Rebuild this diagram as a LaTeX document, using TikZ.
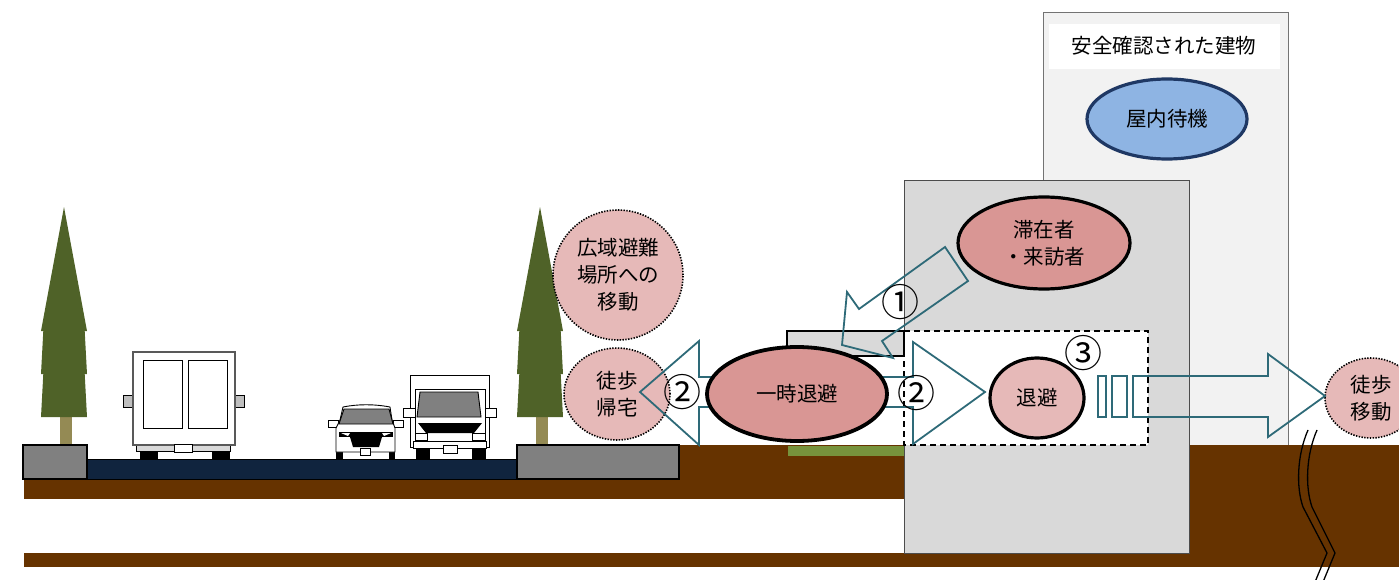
\documentclass[tikz,border=0pt]{standalone}
\usepackage{fontspec}
\setmainfont{Noto Sans CJK JP}
\usetikzlibrary{shapes.geometric}

\definecolor{soil}{HTML}{663300}
\definecolor{asphalt}{HTML}{10243E}
\definecolor{curbgray}{HTML}{808080}
\definecolor{leaf}{HTML}{4F6228}
\definecolor{bark}{HTML}{948A54}
\definecolor{lawn}{HTML}{77933C}
\definecolor{wallfront}{HTML}{D9D9D9}
\definecolor{wallback}{HTML}{F2F2F2}
\definecolor{rose}{HTML}{D99694}
\definecolor{blush}{HTML}{E6B9B8}
\definecolor{skyblue}{HTML}{8EB4E3}
\definecolor{deepnavy}{HTML}{1F3864}
\definecolor{flow}{HTML}{2E6A78}

\tikzset{
  jp/.style={font=\fontsize{20.5}{27}\selectfont, align=center},
  num/.style={font=\fontsize{38}{40}\selectfont, inner sep=0pt},
  spot/.style={ellipse, draw=black, line width=3.2pt, fill=rose, inner sep=0pt, jp},
  spotlight/.style={spot, fill=blush},
  option/.style={ellipse, draw=black, line width=1.6pt, dash pattern=on 1.4pt off 1.4pt,
                 fill=blush, inner sep=0pt, jp},
  flowarrow/.style={draw=flow, line width=1.8pt, line join=miter},
  carline/.style={draw=black, line width=0.9pt},
  pics/pine/.style={code={
    \fill[bark] (-4,-28) rectangle (8,0);
    \fill[leaf] (0,-238) -- (-23,-114) -- (-20.7,-114) -- (-23,-71) -- (-20.7,-71)
      -- (-23,-28) -- (23,-28) -- (20.7,-71) -- (23,-71) -- (20.7,-114) -- (23,-114) -- cycle;
  }}
}

\begin{document}
\begin{tikzpicture}[x=1pt,y=-1pt]
\useasboundingbox (0,0) rectangle (1399,580);

% rear building, checked as safe
\filldraw[fill=wallback, draw=black!55, line width=1pt] (1043,13) rectangle (1288,445);
\fill[white] (1049,24) rectangle (1280,69);
\node[jp] (safelabel) at (1164,46) {安全確認された建物};
\node[ellipse, draw=deepnavy, line width=3.2pt, fill=skyblue, inner sep=0pt, jp,
      minimum width=160pt, minimum height=80pt] (indoor) at (1167,119) {屋内待機};

% ground
\fill[soil] (24,479) rectangle (1399,499);
\fill[soil] (679,445) rectangle (1399,499);
\fill[soil] (1189,445) rectangle (1399,567);
\fill[soil] (24,553) rectangle (1399,567);

% front building
\filldraw[fill=wallfront, draw=black!70, line width=1pt] (904,181) rectangle (1189,553);

% sheltered zone at the entrance
\filldraw[fill=white, draw=black, line width=1.6pt, dash pattern=on 6pt off 4pt]
  (904,331) rectangle (1148,445);

% canopy and lawn
\filldraw[fill=wallfront, draw=black, line width=1.2pt] (787,331) rectangle (904,356);
\fill[lawn] (788,446) rectangle (904,456);

% trees
\pic at (64,445) {pine};
\pic at (540,445) {pine};

% road and curbs
\filldraw[fill=asphalt, draw=black, line width=1pt] (87,459) rectangle (517,479);
\filldraw[fill=curbgray, draw=black, line width=1.5pt] (23,445) rectangle (87,479);
\filldraw[fill=curbgray, draw=black, line width=1.5pt] (517,445) rectangle (679,479);

% truck seen from behind
\filldraw[fill=black!25, carline] (123,395) rectangle (133,407);
\filldraw[fill=black!25, carline] (235,395) rectangle (244,407);
\fill[black] (140,450) rectangle (158,460);
\fill[black] (212,450) rectangle (230,460);
\filldraw[fill=black!15, carline] (136,445) rectangle (230,451);
\filldraw[fill=white, draw=black!65, line width=1.3pt] (133,352) rectangle (235,445);
\filldraw[fill=white, carline] (143,360) rectangle (182,428);
\filldraw[fill=white, carline] (188,360) rectangle (227,428);
\filldraw[fill=white, carline] (174,444) rectangle (192,452);

% small car seen from the front
\filldraw[fill=white, carline] (328,420) rectangle (338,427);
\filldraw[fill=white, carline] (393,420) rectangle (403,427);
\fill[black] (336,450) rectangle (343,459);
\fill[black] (389,450) rectangle (395,459);
\filldraw[fill=white, carline] (336,452) -- (336,428) -- (340,420) -- (343,407)
  .. controls (358,404) and (374,404) .. (390,407) -- (392,420) -- (395,428) -- (395,452) -- cycle;
\filldraw[fill=curbgray, carline] (344,409) -- (389,409) -- (393,424) -- (339,424) -- cycle;
\fill[black] (339,432) rectangle (393,437);
\fill[white] (341,433) -- (350,433) -- (348,436) -- cycle;
\fill[white] (391,433) -- (382,433) -- (384,436) -- cycle;
\fill[black] (350,437) -- (382,437) -- (379,447) -- (353,447) -- cycle;
\filldraw[fill=white, carline] (360,448) rectangle (370,455);

% light truck seen from the front
\fill[black] (416,446) rectangle (430,459);
\fill[black] (472,446) rectangle (486,459);
\filldraw[fill=white, carline] (410,375) rectangle (489,447);
\filldraw[fill=white, carline] (403,408) rectangle (415,417);
\filldraw[fill=white, carline] (484,408) rectangle (496,417);
\filldraw[fill=white, carline] (415,389) rectangle (485,441);
\filldraw[fill=curbgray, carline] (420,392) -- (478,392) -- (481,417) -- (417,417) -- cycle;
\fill[black] (418,423) -- (482,423) -- (474,433) -- (426,433) -- cycle;
\filldraw[fill=white, carline] (415,433) rectangle (427,440);
\filldraw[fill=white, carline] (472,433) rectangle (485,440);
\filldraw[fill=white, carline] (413,441) rectangle (486,448);
\filldraw[fill=white, carline] (443,445) rectangle (457,453);

% destinations outside
\node[option, minimum width=130pt, minimum height=130pt] (wide) at (618,275)
  {広域避難\\場所への\\移動};
\node[option, minimum width=106pt, minimum height=92pt] (home) at (617,394) {徒歩\\帰宅};
\node[option, minimum width=92pt, minimum height=80pt] (walk) at (1371,398) {徒歩\\移動};

% flows
\draw[flowarrow] (945,247) -- (859,309) -- (847,292) -- (842,345) -- (893,358)
  -- (882,341) -- (968,281) -- cycle;
\draw[flowarrow] (640,392) -- (699,341) -- (699,377) -- (913,377) -- (913,342)
  -- (985,392) -- (913,444) -- (913,407) -- (699,407) -- (699,445) -- cycle;
\draw[flowarrow] (1098,376) rectangle (1106,417);
\draw[flowarrow] (1112,376) rectangle (1127,417);
\draw[flowarrow] (1133,376) -- (1268,376) -- (1268,354) -- (1325,396) -- (1268,437)
  -- (1268,417) -- (1133,417) -- cycle;

% places inside
\node[spot, minimum width=172pt, minimum height=92pt] (stay) at (1044,243) {滞在者\\・来訪者};
\node[spot, line width=3.8pt, minimum width=180pt, minimum height=94pt] (temp) at (797,394) {一時退避};
\node[spotlight, minimum width=94pt, minimum height=80pt] (refuge) at (1037,398) {退避};

% step numbers
\node[num] (n1) at (900,302) {①};
\node[num] (n2a) at (682,392) {②};
\node[num] (n2b) at (916,393) {②};
\node[num] (n3) at (1083,353) {③};

% break lines
\draw[line width=1.3pt] (1308,430) .. controls (1297,455) and (1296,487) .. (1303,507)
  -- (1327,553) -- (1315,582);
\draw[line width=1.3pt] (1317,430) .. controls (1306,455) and (1305,487) .. (1312,507)
  -- (1335,553) -- (1323,582);
\end{tikzpicture}
\end{document}
